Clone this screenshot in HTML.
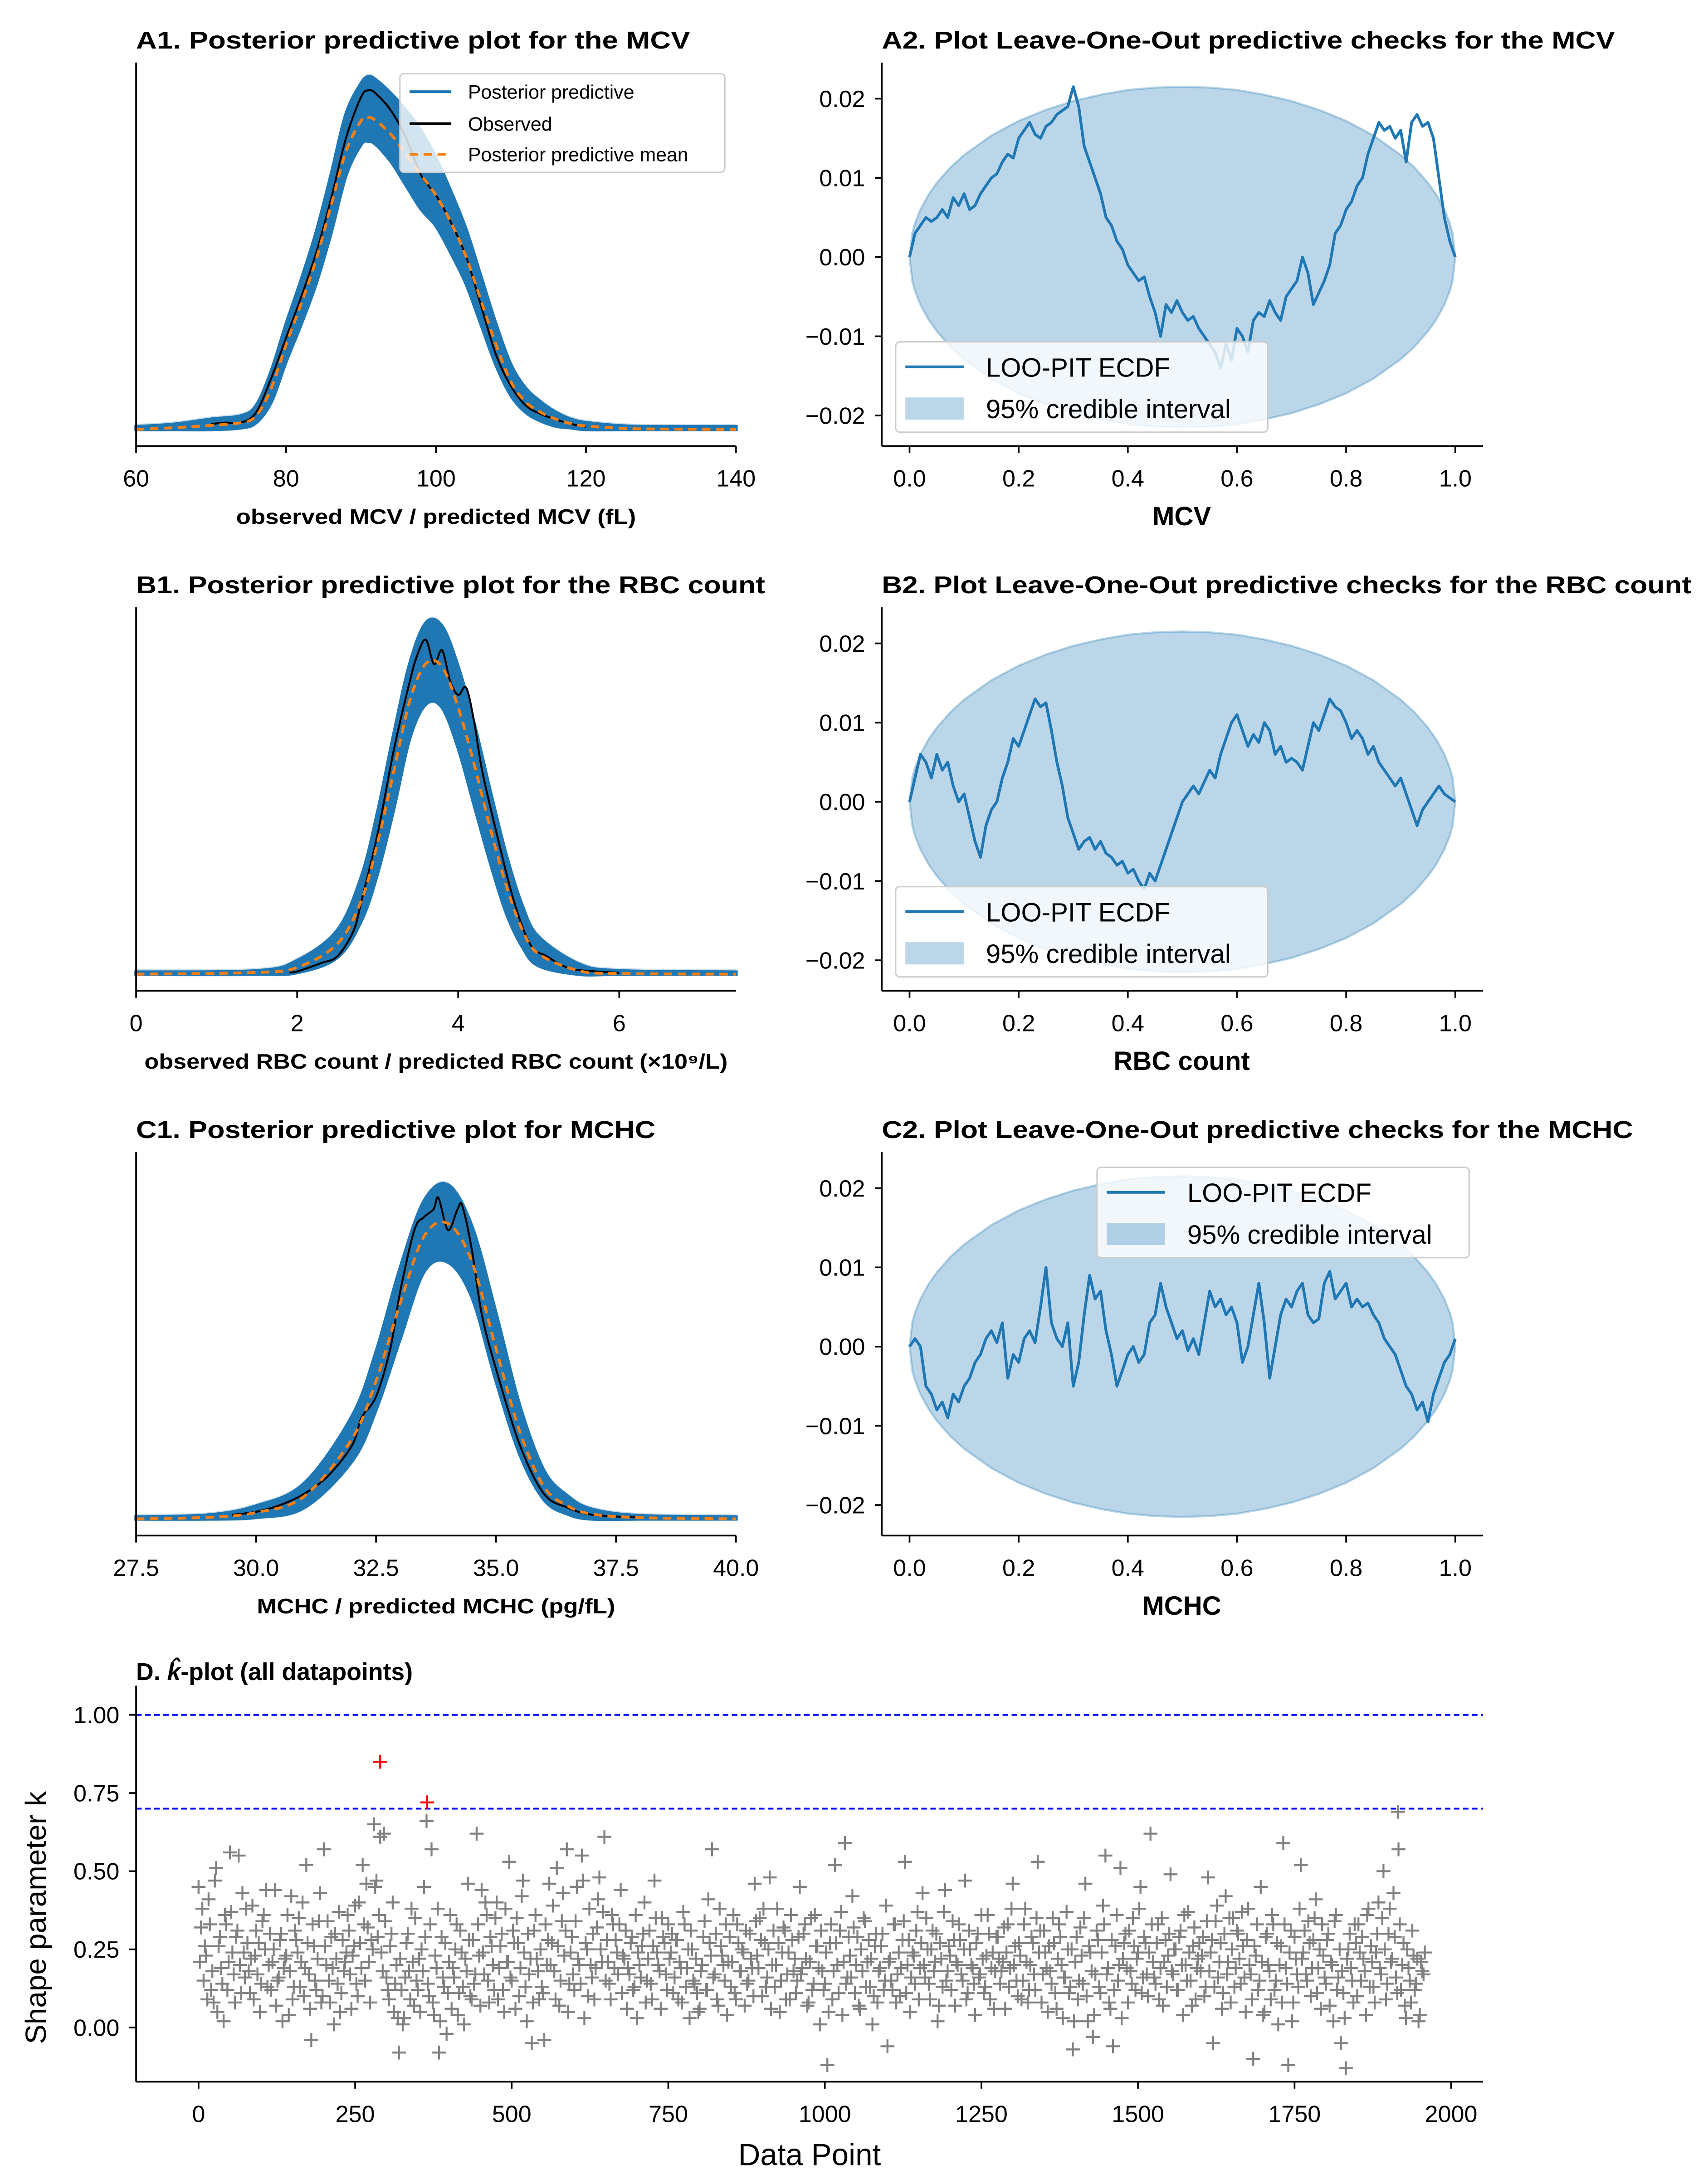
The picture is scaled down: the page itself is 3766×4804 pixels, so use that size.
<!DOCTYPE html>
<html><head><meta charset="utf-8">
<style>
html,body{margin:0;padding:0;background:#fff;}
svg{display:block;}
text{font-family:"Liberation Sans",sans-serif;fill:#000;}
</style></head>
<body>
<svg id="fig" xmlns="http://www.w3.org/2000/svg" width="3766" height="4804" viewBox="0 0 1230 1568" preserveAspectRatio="none">
<rect x="0" y="0" width="1230" height="1568" fill="#fff"/>
</svg>
<script>
// ---------- DATA ----------
// A1: MCV density
const a1Ticks = [60, 80, 100, 120, 140];
const a1Grid = [60,65,70,74,76,78,80,82,84,86,88,90,91,92,94,96,98,100,102,104,106,108,110,112,114,116,118,120,125,130,140];
const a1Mean = [0,.005,.012,.02,.04,.12,.25,.37,.5,.66,.82,.91,.92,.91,.87,.81,.75,.69,.61,.51,.38,.25,.14,.08,.05,.03,.017,.01,.003,.001,0];
const a1Upper = [.008,.015,.03,.04,.07,.17,.31,.44,.58,.75,.93,1.02,1.04,1.03,.99,.94,.88,.8,.7,.59,.45,.31,.19,.12,.08,.05,.03,.02,.01,.008,.008];
const a1Lower = [0,0,0,.005,.02,.08,.2,.31,.43,.58,.75,.84,.85,.84,.79,.72,.65,.6,.52,.43,.31,.19,.1,.05,.025,.01,.005,0,0,0,0];
const a1ObsX = [70,72,74,76,78,80,82,84,86,88,90,91,92,94,96,98,100,102,104,106,108,110,112,114,116,118,120];
const a1Obs = [.016,.02,.02,.05,.15,.27,.39,.52,.68,.86,.98,1.0,.99,.94,.86,.75,.69,.61,.51,.365,.22,.127,.07,.045,.029,.016,.008];

// B1: RBC density
const b1Ticks = [0, 2, 4, 6];
const b1Grid = [0,1.5,2.0,2.5,2.8,3.0,3.2,3.4,3.6,3.8,4.0,4.2,4.4,4.6,4.8,5.0,5.5,6,7.45];
const b1Mean = [0,.005,.02,.09,.22,.39,.6,.81,.92,.91,.79,.62,.43,.26,.13,.06,.01,.002,0];
const b1Upper = [.006,.01,.04,.13,.29,.48,.71,.92,1.04,1.03,.91,.74,.54,.35,.2,.11,.03,.01,.006];
const b1Lower = [0,0,.005,.05,.16,.3,.49,.7,.8,.79,.67,.5,.33,.18,.08,.025,0,0,0];
const b1ObsX = [1.9,2.0,2.3,2.5,2.7,2.8,3.0,3.2,3.4,3.5,3.6,3.7,3.8,3.9,4.0,4.1,4.2,4.3,4.5,4.7,4.9,5.1,5.3,5.5,6.0];
const b1Obs = [.005,.008,.033,.053,.128,.218,.416,.663,.868,.95,.99,.918,.959,.868,.827,.848,.745,.6,.395,.21,.086,.053,.025,.012,.004];

// C1: MCHC density
const c1Ticks = [27.5, 30, 32.5, 35, 37.5, 40];
const c1Grid = [27.5,29,30,31,32,32.5,33,33.5,34,34.5,35,35.5,36,36.5,37,38,40];
const c1Mean = [0,.005,.02,.07,.25,.43,.67,.88,.92,.8,.53,.27,.1,.04,.015,.004,0];
const c1Upper = [.006,.012,.04,.11,.32,.52,.78,.99,1.04,.91,.64,.35,.15,.07,.03,.01,.006];
const c1Lower = [0,0,.005,.035,.18,.34,.56,.77,.8,.69,.43,.2,.06,.015,0,0,0];
const c1ObsX = [29.5,30,30.5,31,31.5,32,32.2,32.5,32.8,33,33.3,33.5,33.7,33.8,34.0,34.2,34.3,34.5,34.7,35,35.5,36,36.5,37,38];
const c1Obs = [.013,.022,.043,.078,.134,.229,.316,.381,.532,.706,.9,.94,.965,1.0,.9,.965,.974,.835,.64,.467,.229,.078,.035,.013,.004];

// LOO-PIT ECDF differences (units of 1e-3), sampled at u = 0, 0.01, ..., 1
const uTicks = [0, 0.2, 0.4, 0.6, 0.8, 1.0];
const ecdfYTicks = [-0.02, -0.01, 0, 0.01, 0.02];
const a2Ecdf = [0,3,4,5,4.5,5,6,5,7.5,6.5,8,6,6.5,8,9,10,10.5,12,13,12.5,15,16,17,15.5,15,16.5,17,18,18.5,19,21.5,19,14,12,10,8,5,4,2,1,-1,-2,-3,-2.5,-5,-7,-10,-6,-7,-5.5,-7,-8,-7.5,-9,-10,-11,-12,-14,-11,-13,-9,-10,-12,-8,-7,-7.5,-5.5,-7,-8,-5,-4,-3,0,-2,-6,-4.5,-3,-1,3,4,6,7,9,10,13,15,17,16,16.5,15,16,12,17,18,16.5,17,15,10,5,2,0];
const b2Ecdf = [0,3,6,5,3,6,4,5,2,0,1,-2,-5,-7,-3,-1,0,3,5,8,7,9,11,13,12,12.5,9,5,2,-2,-4,-6,-5,-4.5,-6,-5,-6.5,-7,-8,-7.5,-9,-8.5,-10,-11,-9,-10,-8,-6,-4,-2,0,1,2,1,2.5,4,3,6,8,10,11,9,7,8.5,7.5,10,9,6,7,5,5.5,5,4,7,10,9,11,13,12,11.5,10,8,9,8,6,7,5,4,3,2,3,1,-1,-3,-1,0,1,2,1,0.5,0];
const c2Ecdf = [0,1,0,-5,-6,-8,-7,-9,-6,-7,-5,-4,-2,-1,1,2,0.5,3,-4,-1,-2,1,2,0.5,5,10,3,1,0,3,-5,-2,4,9,6,7,2,-1,-5,-3,-1,0,-2,-1,3,4,8,5,3,1,2,-0.5,1,-1,3,7,5,6,4,5,3,-2,0,4,8,3,-4,0,4,6,5,7,8,4,3,3.5,8,9.5,6,7,8,5,6,5,5.5,4,3,1,0,-1,-3,-5,-6,-8,-7,-9.5,-6,-4,-2,-1,1];
// 95% credible band half-width at given u positions
const bandU = [0,.005,.01,.02,.035,.05,.075,.1,.15,.2,.25,.3,.35,.4,.45,.5,.55,.6,.65,.7,.75,.8,.85,.9,.925,.95,.965,.98,.99,.995,1];
const bandHalf = [0,.00303,.00428,.00602,.0079,.00937,.01133,.0129,.01535,.0172,.0186,.0197,.0205,.0211,.0214,.0215,.0214,.0211,.0205,.0197,.0186,.0172,.01535,.0129,.01133,.00937,.0079,.00602,.00428,.00303,0];

// D: k-hat values, one every 4 data points (index 0,4,8,...)
const kStep = 4;
const kValues = [
.45,.32,.15,.23,.41,.12,.08,.51,.26,.19,
.02,.33,.21,.37,.17,.29,.55,.11,.24,.38,
.18,.22,.09,.31,.27,.14,.36,.44,.20,.12,
.25,.07,.16,.30,.19,.23,.04,.42,.13,.28,
.35,.21,.10,.52,.17,-.04,.26,.12,.34,.08,
.57,.20,.15,.29,.01,.22,.37,.11,.18,.24,
.31,.06,.26,.14,.40,.19,.33,.46,.21,.28,
.65,.47,.36,.24,.62,.16,.09,.30,.05,.20,
-.08,.12,.03,.27,.18,.38,.07,.15,.22,.25,
.45,.66,.10,.57,.04,.19,-.08,.29,.13,-.02,
.21,.06,.16,.33,.11,.24,.01,.18,.28,.09,
.14,.62,.23,.44,.17,.36,.08,.26,.12,.40,
.19,.30,.05,.21,.53,.15,.27,.35,.10,.42,
.24,.02,.17,-.05,.31,.22,.09,.13,-.04,.20,
.46,.27,.18,.51,.07,.34,.23,.57,.14,.29,
.12,.45,.20,.55,.03,.25,.38,.16,.09,.32,
.48,.21,.61,.28,.14,.36,.19,.24,.33,.11,
.22,.06,.17,.29,.13,.03,.20,.26,.40,.15,
.31,.09,.47,.24,.18,.35,.27,.12,.22,.30,
.16,.28,.21,.08,.33,.19,.03,.25,.14,.11,
.06,.20,.34,.12,.27,.57,.17,.09,.38,.23,
.15,.04,.29,.21,.11,.33,.18,.25,.07,.14,
.30,.19,.46,.23,.35,.10,.27,.16,.48,.20,
.13,.38,.05,.24,.31,.17,.09,.28,.22,.15,
.45,.19,.33,.07,.21,.12,.36,.26,.01,.18,
.14,-.12,.27,.09,.52,.20,.31,.04,.59,.16,
.23,.42,.11,.29,.06,.18,.34,.21,.13,.01,
.26,.08,.19,.30,.15,-.06,.22,.12,.33,.17,
.10,.28,.53,.20,.05,.24,.14,.37,.19,.43,
.16,.25,.09,.31,.21,.02,.27,.13,.44,.18,
.23,.34,.07,.20,.28,.15,.47,.11,.25,.19,
.04,.30,.17,.22,.13,.36,.09,.24,.18,.29,
.14,.21,.06,.33,.19,.46,.26,.10,.23,.15,
.38,.08,.20,.27,.12,.53,.31,.17,.24,.05,
.18,.35,.11,.22,.29,.03,.16,.25,.13,-.07,
.21,.09,.32,.14,.46,.02,.24,-.03,.17,.28,
.11,.39,.55,.19,.06,-.06,.26,.15,.51,.22,
.30,.08,.18,.35,.12,.24,.45,.16,.27,.10,
.62,.21,.14,.33,.19,.07,.28,.23,.49,.17,
.25,.12,.31,.04,.20,.37,.15,.26,.09,.22,
.18,.29,.13,.48,.24,-.05,.34,.16,.27,.11,
.42,.21,.08,.35,.19,.30,.14,.26,.05,.38,
.17,-.10,.23,.12,.45,.04,.29,.20,.09,.33,
.15,.01,.26,.59,.19,-.12,.31,.08,.22,.13,
.52,.24,.17,.34,.10,.28,.41,.19,.06,.23,
.14,.30,.21,.02,.36,.16,-.05,.11,-.13,.25,
.19,.08,.27,.33,.15,.22,.04,.38,.26,.13,
.24,.40,.17,.50,.09,.30,.21,.43,.16,.57,
.12,.27,.03,.19,.08,.23,.14,.02,.21,.17];
// second interleaved set: data points 2,6,10,...
const kOffset2 = 2;
const kValues2 = [
.21,.38,.26,.09,.33,.18,.47,.05,.29,.14,
.36,.12,.56,.24,.08,.31,.20,.43,.16,.27,
.11,.39,.23,.17,.05,.34,.25,.13,.30,.21,
.44,.15,.28,.02,.22,.36,.18,.09,.31,.24,
.13,.40,.19,.27,.06,.33,.15,.22,.43,.10,
.26,.34,.08,.19,.30,.14,.05,.28,.21,.36,
.17,.23,.39,.10,.27,.52,.15,.32,.08,.25,
.45,.29,.61,.18,.34,.12,.26,.40,.14,.03,
.22,.01,.16,.30,.09,.21,.35,.12,.05,.18,
.29,.14,.33,.08,.23,.38,.02,.16,.27,.11,
.36,.19,.25,.04,.31,.13,.22,.46,.10,.28,
.17,.33,.07,.24,.40,.15,.29,.20,.35,.09,
.26,.12,.38,.21,.16,.31,.06,.27,.19,.47,
.13,.30,.22,.08,.36,.18,.25,.11,.33,.28,
.20,.39,.09,.26,.15,.43,.31,.05,.24,.17,
.34,.22,.14,.47,.27,.10,.20,.30,.19,.41,
.25,.37,.15,.21,.09,.33,.28,.17,.44,.23,
.31,.19,.27,.12,.36,.24,.16,.30,.08,.22,
.14,.26,.35,.20,.06,.29,.17,.33,.24,.11,
.28,.09,.19,.37,.13,.25,.31,.15,.22,.05,
.18,.29,.12,.41,.23,.16,.30,.07,.26,.20,
.33,.21,.13,.36,.09,.27,.18,.24,.31,.15,
.22,.10,.34,.19,.28,.38,.13,.25,.06,.31,
.20,.27,.15,.32,.09,.24,.36,.18,.11,.29,
.17,.30,.22,.08,.35,.14,.26,.19,.31,.12,
.24,.05,.33,.18,.27,.11,.37,.21,.14,.29,
.16,.32,.20,.07,.25,.35,.13,.28,.22,.10,
.30,.18,.26,.12,.39,.21,.15,.33,.08,.24,
.19,.34,.11,.28,.16,.23,.31,.09,.27,.20,
.35,.14,.25,.18,.30,.07,.22,.37,.15,.26,
.12,.28,.21,.33,.17,.25,.09,.31,.20,.14,
.27,.16,.36,.11,.23,.30,.19,.06,.29,.22,
.18,.32,.24,.13,.38,.20,.15,.27,.09,.33,
.21,.12,.29,.17,.35,.24,.08,.31,.19,.26,
.14,.27,.06,.33,.20,.16,.37,.11,.25,.02,
.29,.15,.23,.35,.10,.26,.18,.04,.31,.13,
.24,.33,.17,.08,.28,.12,.36,.20,.03,.27,
.19,.31,.14,.26,.22,.38,.11,.29,.17,.24,
.33,.16,.27,.09,.35,.21,.13,.30,.18,.25,
.12,.29,.20,.36,.15,.24,.07,.32,.19,.27,
.23,.10,.34,.18,.28,.13,.39,.21,.06,.30,
.17,.35,.25,.13,.31,.22,.37,.16,.28,.20,
.09,.26,.33,.15,.21,.05,.30,.18,.36,.12,
.27,.20,.08,.33,.14,.24,.02,.29,.17,.38,
.22,.31,.15,.27,.19,.35,.11,.25,.33,.16,
.28,.07,.20,.34,.12,.25,.18,.03,.22,.30,
.15,.33,.10,.24,.29,.18,.36,.13,.21,.08,
.30,.19,.35,.25,.14,.38,.22,.29,.11,.33,
.20,.07,.25,.15,.31,.12,.22,.04,.18,.24];
const kExtraIdx = [1915];
const kExtraVal = [0.69];
const kFlagIdx = [290, 365];
const kFlagVal = [0.85, 0.72];
const kThresholds = [1.0, 0.7];
const dXTicks = [0,250,500,750,1000,1250,1500,1750,2000];
const dYTicks = [0, 0.25, 0.5, 0.75, 1.0];

// ---------- HELPERS ----------
const NS = 'http://www.w3.org/2000/svg';
const svg = document.getElementById('fig');
function mk(tag, attrs, parent) {
  const e = document.createElementNS(NS, tag);
  for (const k in attrs) e.setAttribute(k, attrs[k]);
  (parent || svg).appendChild(e);
  return e;
}
function tx(str, x, y, attrs, parent) {
  const e = mk('text', Object.assign({x: x, y: y}, attrs || {}), parent);
  e.textContent = str;
  return e;
}
function smooth(pts) {
  let d = 'M' + pts[0][0].toFixed(2) + ',' + pts[0][1].toFixed(2);
  for (let i = 0; i < pts.length - 1; i++) {
    const p0 = pts[Math.max(0, i - 1)], p1 = pts[i], p2 = pts[i + 1], p3 = pts[Math.min(pts.length - 1, i + 2)];
    const c1x = p1[0] + (p2[0] - p0[0]) / 6, c1y = p1[1] + (p2[1] - p0[1]) / 6;
    const c2x = p2[0] - (p3[0] - p1[0]) / 6, c2y = p2[1] - (p3[1] - p1[1]) / 6;
    d += 'C' + c1x.toFixed(2) + ',' + c1y.toFixed(2) + ' ' + c2x.toFixed(2) + ',' + c2y.toFixed(2) + ' ' + p2[0].toFixed(2) + ',' + p2[1].toFixed(2);
  }
  return d;
}
function poly(pts) { return pts.map((p, i) => (i ? 'L' : 'M') + p[0].toFixed(2) + ',' + p[1].toFixed(2)).join(''); }
function fmtMinus(v, n) { const s = v.toFixed(n); return v < 0 ? '\u2212' + s.slice(1) : s; }

// ---------- DENSITY PANEL ----------
function densityPanel(cfg) {
  const g = mk('g', {});
  
  
  const L = 98, R = 530, top = cfg.top, bottom = cfg.top + 276;
  const baseY = bottom - 12, hScale = cfg.hScale;
  const xs = v => L + (v - cfg.xmin) / (cfg.xmax - cfg.xmin) * (R - L);
  const ys = d => baseY - d * hScale;

  const t = tx(cfg.title, L, top - 10, {'font-size': 17.5, 'font-weight': 'bold', textLength: cfg.titleLen, lengthAdjust: 'spacingAndGlyphs'}, g);
  
  

  const up = cfg.grid.map((v, i) => [xs(v), ys(cfg.upper[i]) - 2]);
  const lo = cfg.grid.map((v, i) => [xs(v), ys(cfg.lower[i]) + 1.5]).reverse();
  const halo = mk('path', {d: smooth(up) + 'L' + smooth(lo).slice(1) + 'Z', fill: '#1f77b4', 'fill-opacity': 0.25}, g);
  
  
  const up2 = cfg.grid.map((v, i) => [xs(v), ys(cfg.upper[i])]);
  const lo2 = cfg.grid.map((v, i) => [xs(v), ys(cfg.lower[i])]).reverse();
  const band = mk('path', {d: smooth(up2) + 'L' + smooth(lo2).slice(1) + 'Z', fill: '#1f77b4', stroke: '#1f77b4', 'stroke-width': 2.5}, g);
  
  

  const obs = mk('path', {d: smooth(cfg.obsX.map((v, i) => [xs(v), ys(cfg.obs[i])])), fill: 'none', stroke: '#000', 'stroke-width': 1.4}, g);
  
  
  const mean = mk('path', {d: smooth(cfg.grid.map((v, i) => [xs(v), ys(cfg.mean[i])])), fill: 'none', stroke: '#ff7f0e', 'stroke-width': 2, 'stroke-dasharray': '6,4'}, g);
  
  

  const ls = mk('line', {x1: L, y1: top, x2: L, y2: bottom, stroke: '#000', 'stroke-width': 1.2}, g);
  
  
  const bs = mk('line', {x1: L, y1: bottom, x2: R, y2: bottom, stroke: '#000', 'stroke-width': 1.2}, g);
  
  
  cfg.ticks.forEach(v => {
    const tk = mk('line', {x1: xs(v), y1: bottom, x2: xs(v), y2: bottom + 5, stroke: '#000', 'stroke-width': 1.2}, g);
    
    
    const tl = tx(cfg.fmt(v), xs(v), bottom + 29, {'font-size': 17, 'text-anchor': 'middle'}, g);
    
    
  });
  const xl = tx(cfg.xlabel, cfg.xlabelX, bottom + 56, {'font-size': 15, 'font-weight': 'bold', textLength: cfg.xlabelLen, lengthAdjust: 'spacingAndGlyphs'}, g);
  
  
  return g;
}

densityPanel({name: 'panel-a1-mcv-ppc', top: 45, xmin: 60, xmax: 140, hScale: 244, grid: a1Grid, mean: a1Mean, upper: a1Upper, lower: a1Lower, obsX: a1ObsX, obs: a1Obs, ticks: a1Ticks, fmt: v => String(v),
  title: 'A1. Posterior predictive plot for the MCV', titleLen: 399, xlabel: 'observed MCV / predicted MCV (fL)', xlabelX: 170, xlabelLen: 288});
densityPanel({name: 'panel-b1-rbc-ppc', top: 437, xmin: 0, xmax: 7.45, hScale: 243, grid: b1Grid, mean: b1Mean, upper: b1Upper, lower: b1Lower, obsX: b1ObsX, obs: b1Obs, ticks: b1Ticks, fmt: v => String(v),
  title: 'B1. Posterior predictive plot for the RBC count', titleLen: 453, xlabel: 'observed RBC count / predicted RBC count (\u00d710\u2079/L)', xlabelX: 104, xlabelLen: 420});
densityPanel({name: 'panel-c1-mchc-ppc', top: 829, xmin: 27.5, xmax: 40, hScale: 231, grid: c1Grid, mean: c1Mean, upper: c1Upper, lower: c1Lower, obsX: c1ObsX, obs: c1Obs, ticks: c1Ticks, fmt: v => v.toFixed(1),
  title: 'C1. Posterior predictive plot for MCHC', titleLen: 374, xlabel: 'MCHC / predicted MCHC (pg/fL)', xlabelX: 185, xlabelLen: 258});

// legend A1
(function () {
  const g = mk('g', {});
  
  
  const box = mk('rect', {x: 288, y: 53, width: 234, height: 71, rx: 3, fill: '#fff', 'fill-opacity': 0.8, stroke: '#ccc', 'stroke-width': 1}, g);
  
  
  const entries = [['Posterior predictive', '#1f77b4', null, 66], ['Observed', '#000', null, 89], ['Posterior predictive mean', '#ff7f0e', '6,4', 111]];
  entries.forEach(e => {
    const l = mk('line', {x1: 295, y1: e[3], x2: 325, y2: e[3], stroke: e[1], 'stroke-width': 2}, g);
    if (e[2]) l.setAttribute('stroke-dasharray', e[2]);
    
    
    const t = tx(e[0], 337, e[3] + 5, {'font-size': 14}, g);
    
    
  });
})();

// ---------- ECDF PANEL ----------
function ecdfPanel(cfg) {
  const g = mk('g', {});
  
  
  const L = 635, R = 1068, top = cfg.top, bottom = cfg.top + 276;
  const zeroY = cfg.top + 140, pxPer = 5700;
  const xs = u => 655 + u * 393;
  const ys = v => zeroY - v * pxPer;

  const t = tx(cfg.title, L, top - 10, {'font-size': 17.5, 'font-weight': 'bold', textLength: cfg.titleLen, lengthAdjust: 'spacingAndGlyphs'}, g);
  
  

  const upPts = bandHalf.map((h, i) => [xs(bandU[i]), ys(h)]);
  const loPts = bandHalf.map((h, i) => [xs(bandU[i]), ys(-h)]).reverse();
  const band = mk('path', {d: poly(upPts) + poly(loPts).replace('M', 'L') + 'Z', fill: '#1f77b4', 'fill-opacity': 0.3, stroke: '#1f77b4', 'stroke-opacity': 0.3, 'stroke-width': 1.5}, g);
  
  

  const m = cfg.ecdf.length - 1;
  let d = '';
  cfg.ecdf.forEach((v, i) => { d += (i ? 'L' : 'M') + xs(i / m).toFixed(2) + ',' + ys(v / 1000).toFixed(2); });
  const line = mk('path', {d: d, fill: 'none', stroke: '#1f77b4', 'stroke-width': 2, 'stroke-linejoin': 'round'}, g);
  
  

  const ls = mk('line', {x1: L, y1: top, x2: L, y2: bottom, stroke: '#000', 'stroke-width': 1.2}, g);
  
  
  const bs = mk('line', {x1: L, y1: bottom, x2: R, y2: bottom, stroke: '#000', 'stroke-width': 1.2}, g);
  
  
  uTicks.forEach(v => {
    const tk = mk('line', {x1: xs(v), y1: bottom, x2: xs(v), y2: bottom + 5, stroke: '#000', 'stroke-width': 1.2}, g);
    
    
    const tl = tx(v.toFixed(1), xs(v), bottom + 29, {'font-size': 17, 'text-anchor': 'middle'}, g);
    
    
  });
  ecdfYTicks.forEach(v => {
    const tk = mk('line', {x1: L - 5, y1: ys(v), x2: L, y2: ys(v), stroke: '#000', 'stroke-width': 1.2}, g);
    
    
    const tl = tx(fmtMinus(v, 2), L - 12, ys(v) + 6, {'font-size': 17, 'text-anchor': 'end'}, g);
    
    
  });
  const xl = tx(cfg.xlabel, 851, bottom + 57, {'font-size': 19, 'font-weight': 'bold', 'text-anchor': 'middle'}, g);
  
  

  const lg = mk('g', {}, g);
  
  
  const bx = cfg.legX, by = cfg.legY;
  const box = mk('rect', {x: bx, y: by, width: 268, height: 65, rx: 3, fill: '#fff', 'fill-opacity': 0.8, stroke: '#ccc', 'stroke-width': 1}, lg);
  
  
  const sl = mk('line', {x1: bx + 7, y1: by + 18, x2: bx + 49, y2: by + 18, stroke: '#1f77b4', 'stroke-width': 2}, lg);
  
  
  const t1 = tx('LOO-PIT ECDF', bx + 65, by + 25, {'font-size': 19}, lg);
  
  
  const sp = mk('rect', {x: bx + 7, y: by + 40, width: 42, height: 16, fill: '#1f77b4', 'fill-opacity': 0.3}, lg);
  
  
  const t2 = tx('95% credible interval', bx + 65, by + 55, {'font-size': 19}, lg);
  
  
}
ecdfPanel({name: 'panel-a2-mcv-loo-pit', top: 45, ecdf: a2Ecdf, title: 'A2. Plot Leave-One-Out predictive checks for the MCV', titleLen: 528, xlabel: 'MCV', legX: 645, legY: 246});
ecdfPanel({name: 'panel-b2-rbc-loo-pit', top: 437, ecdf: b2Ecdf, title: 'B2. Plot Leave-One-Out predictive checks for the RBC count', titleLen: 583, xlabel: 'RBC count', legX: 645, legY: 638});
ecdfPanel({name: 'panel-c2-mchc-loo-pit', top: 829, ecdf: c2Ecdf, title: 'C2. Plot Leave-One-Out predictive checks for the MCHC', titleLen: 541, xlabel: 'MCHC', legX: 790, legY: 840});

// ---------- D: k-hat plot ----------
(function () {
  const g = mk('g', {});
  
  
  const L = 98, R = 1068, top = 1213, bottom = 1498;
  const xs = v => 143 + v * (902 / 2000);
  const ys = v => 1459 - v * 225;
  const t = tx('D. ', L, top - 4, {'font-size': 17.5, 'font-weight': 'bold'}, g);
  const ts = mk('tspan', {'font-style': 'italic'}, t);
  ts.textContent = 'k\u0302';
  const ts2 = mk('tspan', {}, t);
  ts2.textContent = '-plot (all datapoints)';
  
  

  kThresholds.forEach(v => {
    const l = mk('line', {x1: L, y1: ys(v), x2: R, y2: ys(v), stroke: '#0000ff', 'stroke-width': 1.3, 'stroke-dasharray': '4,2.5'}, g);
    
    
  });
  function plus(x, y, color) {
    return mk('path', {d: 'M' + (x - 5) + ',' + y + 'H' + (x + 5) + 'M' + x + ',' + (y - 5) + 'V' + (y + 5), stroke: color, 'stroke-width': 1.4, fill: 'none'}, g);
  }
  kValues.forEach((v, i) => {
    const p = plus(xs(i * kStep), ys(v), '#808080');
    
    
  });
  kValues2.forEach((v, i) => {
    const p = plus(xs(kOffset2 + i * kStep), ys(v), '#808080');
    
    
  });
  kExtraIdx.forEach((idx, i) => {
    const p = plus(xs(idx), ys(kExtraVal[i]), '#808080');
    
    
  });
  kFlagIdx.forEach((idx, i) => {
    const p = plus(xs(idx), ys(kFlagVal[i]), '#ff0000');
    
    
  });

  const ls = mk('line', {x1: L, y1: top, x2: L, y2: bottom, stroke: '#000', 'stroke-width': 1.2}, g);
  
  
  const bs = mk('line', {x1: L, y1: bottom, x2: R, y2: bottom, stroke: '#000', 'stroke-width': 1.2}, g);
  
  
  dXTicks.forEach(v => {
    const tk = mk('line', {x1: xs(v), y1: bottom, x2: xs(v), y2: bottom + 5, stroke: '#000', 'stroke-width': 1.2}, g);
    
    
    const tl = tx(String(v), xs(v), bottom + 29, {'font-size': 17, 'text-anchor': 'middle'}, g);
    
    
  });
  dYTicks.forEach(v => {
    const tk = mk('line', {x1: L - 5, y1: ys(v), x2: L, y2: ys(v), stroke: '#000', 'stroke-width': 1.2}, g);
    
    
    const tl = tx(v.toFixed(2), L - 12, ys(v) + 6, {'font-size': 17, 'text-anchor': 'end'}, g);
    
    
  });
  const xl = tx('Data Point', 583, 1558, {'font-size': 22, 'text-anchor': 'middle'}, g);
  
  
  const yl = tx('Shape parameter k', 0, 0, {'font-size': 21, 'text-anchor': 'middle', transform: 'translate(33,1380) rotate(-90)', textLength: 182, lengthAdjust: 'spacingAndGlyphs'}, g);
  
  
})();
</script>
</body></html>
